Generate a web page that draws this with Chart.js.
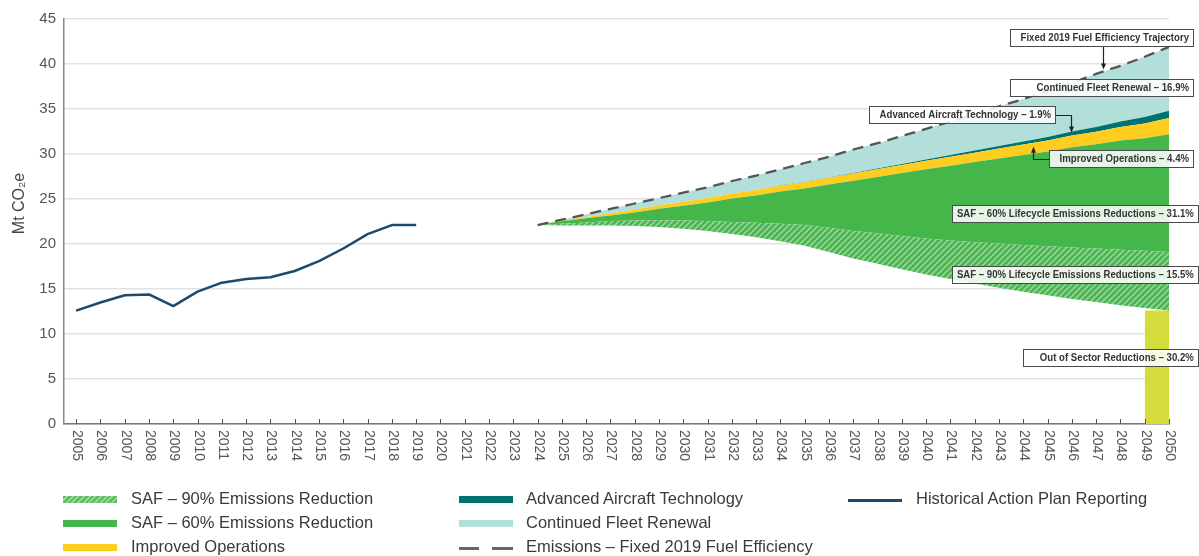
<!DOCTYPE html>
<html><head><meta charset="utf-8">
<script src="https://cdn.jsdelivr.net/npm/chart.js@4.4.1/dist/chart.umd.min.js"></script>
<style>
html,body{margin:0;padding:0;background:#fff;}
#wrap{position:relative;width:1199px;height:556px;overflow:hidden;background:#fff;}
#c{position:absolute;left:0;top:0;}
.lt{position:absolute;font-family:"Liberation Sans",Arial,sans-serif;font-size:16.5px;color:#3a3a3a;white-space:nowrap;line-height:20px;}
.sw{position:absolute;height:7px;width:54px;}
</style></head><body>
<div id="wrap"><canvas id="c" width="1199" height="556"></canvas><div id="legend"></div></div>
<script>
// ---------- data ----------
const histYears = [2005,2006,2007,2008,2009,2010,2011,2012,2013,2014,2015,2016,2017,2018,2019];
const historical = [12.6,13.5,14.3,14.4,13.1,14.7,15.7,16.1,16.3,17.0,18.1,19.5,21.1,22.1,22.1];

const projYears = [2024,2025,2026,2027,2028,2029,2030,2031,2032,2033,2034,2035,2036,2037,2038,2039,2040,2041,2042,2043,2044,2045,2046,2047,2048,2049,2050];
const residual     = [22.1,22.05,22.05,22.05,22.0,21.9,21.7,21.45,21.1,20.75,20.3,19.8,19.1,18.4,17.8,17.2,16.6,16.1,15.6,15.15,14.7,14.3,13.9,13.55,13.2,12.9,12.6];
const saf90        = [0,0.2,0.35,0.5,0.6,0.75,0.9,1.1,1.35,1.6,1.95,2.3,2.7,3.05,3.4,3.7,4.0,4.3,4.6,4.9,5.2,5.45,5.7,5.95,6.15,6.35,6.5];
const saf60        = [0,0.27,0.45,0.63,0.9,1.28,1.65,2.05,2.6,3.05,3.58,4.07,4.8,5.58,6.25,6.98,7.7,8.3,8.9,9.45,10.0,10.53,11.15,11.58,12.15,12.5,13.1];
const improvedOps  = [0,0.08,0.15,0.22,0.3,0.37,0.45,0.5,0.55,0.6,0.65,0.7,0.75,0.8,0.85,0.9,0.95,1.0,1.05,1.1,1.15,1.22,1.3,1.4,1.5,1.65,1.8];
const advancedTech = [0,0,0,0,0,0,0,0,0,0,0.02,0.03,0.05,0.07,0.1,0.12,0.15,0.2,0.25,0.3,0.35,0.4,0.45,0.52,0.6,0.7,0.8];
const fleetRenewal = [0,0.1,0.3,0.5,0.7,0.8,1.0,1.2,1.4,1.6,1.8,2.1,2.3,2.6,2.8,3.1,3.4,3.7,4.0,4.4,4.7,5.1,5.4,5.9,6.2,6.7,7.1];
const fixed2019    = [22.1,22.7,23.3,23.9,24.5,25.1,25.7,26.3,27.0,27.6,28.3,29.0,29.7,30.5,31.2,32.0,32.8,33.6,34.4,35.3,36.1,37.0,37.9,38.9,39.8,40.8,41.9];

const outOfSectorYears = [2049,2050];
const outOfSector = [12.6,12.6];

const xTickLabels = [2005,2006,2007,2008,2009,2010,2011,2012,2013,2014,2015,2016,2017,2018,2019,2020,2021,2022,2023,2024,2025,2026,2027,2028,2029,2030,2031,2032,2033,2034,2035,2036,2037,2038,2039,2040,2041,2042,2043,2044,2045,2046,2047,2048,2049,2050];
const yTitle = 'Mt CO\u2082e';

const legendLabels = ['SAF – 90% Emissions Reduction','SAF – 60% Emissions Reduction','Improved Operations','Advanced Aircraft Technology','Continued Fleet Renewal','Emissions – Fixed 2019 Fuel Efficiency','Historical Action Plan Reporting'];

// annotation boxes (data coordinates)
const annotations = [
  {text:'Fixed 2019 Fuel Efficiency Trajectory', x0:2043.45, x1:2050.99, y:42.94, arrow:{type:'down', x:2047.28, y:39.4}},
  {text:'Continued Fleet Renewal – 16.9%', x0:2043.45, x1:2050.99, y:37.37},
  {text:'Advanced Aircraft Technology – 1.9%', x0:2037.65, x1:2045.31, y:34.36, arrow:{type:'rightdown', x:2045.96, y:32.4}},
  {text:'Improved Operations – 4.4%', x0:2045.06, x1:2050.99, y:29.46, arrow:{type:'leftup', x:2044.40, y:30.8}},
  {text:'SAF – 60% Lifecycle Emissions Reductions – 31.1%', x0:2041.06, x1:2051.19, y:23.39},
  {text:'SAF – 90% Lifecycle Emissions Reductions – 15.5%', x0:2041.06, x1:2051.19, y:16.6},
  {text:'Out of Sector Reductions – 30.2%', x0:2043.99, x1:2051.19, y:7.41}
];

// ---------- helpers ----------
const pts = (xs, ys) => xs.map((x,i)=>({x:x, y:ys[i]}));
const FONT = '"Liberation Sans", Arial, sans-serif';

const C = {
  saf60:'#44b64a', ops:'#ffcd1f', aat:'#00726f', fleet:'#b3dfda',
  hist:'#1d4a6c', dash:'#555555', oos:'#d3dc3b'
};

const hatch = (() => {
  const c = document.createElement('canvas'); c.width = 6; c.height = 6;
  const g = c.getContext('2d');
  g.fillStyle = '#48b64e'; g.fillRect(0,0,6,6);
  g.strokeStyle = 'rgba(255,255,255,0.42)'; g.lineWidth = 1.6;
  g.beginPath();
  g.moveTo(-1,7); g.lineTo(7,-1);
  g.moveTo(-4,4); g.lineTo(4,-4);
  g.moveTo(2,10); g.lineTo(10,2);
  g.stroke();
  return g.createPattern(c,'repeat');
})();

function band(label, ys, color, fill) {
  return {label, data: pts(projYears, ys), stack:'proj', backgroundColor: color, borderColor: 'rgba(0,0,0,0)', borderWidth: 0, fill: fill, pointRadius:0};
}

const datasets = [
  band('Residual', residual, 'rgba(0,0,0,0)', false),
  band('SAF – 90% Emissions Reduction', saf90, hatch, '-1'),
  band('SAF – 60% Emissions Reduction', saf60, C.saf60, '-1'),
  band('Improved Operations', improvedOps, C.ops, '-1'),
  band('Advanced Aircraft Technology', advancedTech, C.aat, '-1'),
  band('Continued Fleet Renewal', fleetRenewal, C.fleet, '-1'),
  {label:'Emissions – Fixed 2019 Fuel Efficiency', data: pts(projYears, fixed2019), stack:'dash', borderColor:C.dash, borderWidth:2.3, borderDash:[11,7], fill:false, pointRadius:0, order:-1},
  {label:'Historical Action Plan Reporting', data: pts(histYears, historical), stack:'hist', borderColor:C.hist, borderWidth:2.5, fill:false, pointRadius:0, order:-1, borderJoinStyle:'round'},
  {label:'Out of Sector Reductions', data: pts(outOfSectorYears, outOfSector), stack:'oos', borderColor:C.oos, borderWidth:0, backgroundColor:C.oos, fill:'origin', pointRadius:0}
];

const overlay = {
  id:'overlay',
  afterDraw(chart) {
    const ctx = chart.ctx, xs = chart.scales.x, ys = chart.scales.y, area = chart.chartArea;
    ctx.save();
    // x ticks and rotated labels
    ctx.strokeStyle = '#555'; ctx.lineWidth = 1;
    ctx.fillStyle = '#555'; ctx.font = '14px ' + FONT;
    ctx.textAlign = 'left'; ctx.textBaseline = 'middle';
    xTickLabels.forEach(yr => {
      const px = Math.round(xs.getPixelForValue(yr)) + 0.5;
      ctx.beginPath(); ctx.moveTo(px, area.bottom); ctx.lineTo(px, area.bottom - 5); ctx.stroke();
      ctx.save();
      ctx.translate(px, area.bottom + 6);
      ctx.rotate(Math.PI/2);
      ctx.fillText(String(yr), 0, 0);
      ctx.restore();
    });
    // y title
    ctx.save();
    ctx.translate(20, (area.top + area.bottom)/2 - 18);
    ctx.rotate(-Math.PI/2);
    ctx.textAlign = 'center'; ctx.textBaseline = 'middle';
    ctx.font = '16px ' + FONT; ctx.fillStyle = '#444';
    ctx.fillText(yTitle, 0, 0);
    ctx.restore();
    // annotations
    const sx = 0.875;
    annotations.forEach(a => {
      const l = xs.getPixelForValue(a.x0), r = xs.getPixelForValue(a.x1), cy = ys.getPixelForValue(a.y);
      const h = 17, t = Math.round(cy - h/2) + 0.5;
      // connectors
      if (a.arrow) {
        const ax = Math.round(xs.getPixelForValue(a.arrow.x)) + 0.5, ay = ys.getPixelForValue(a.arrow.y);
        ctx.strokeStyle = '#222'; ctx.fillStyle = '#222'; ctx.lineWidth = 1.2;
        ctx.beginPath();
        if (a.arrow.type === 'down') { ctx.moveTo(ax, t + h); ctx.lineTo(ax, ay - 5); }
        if (a.arrow.type === 'rightdown') { ctx.moveTo(r, Math.round(cy)+0.5); ctx.lineTo(ax, Math.round(cy)+0.5); ctx.lineTo(ax, ay - 5); }
        if (a.arrow.type === 'leftup') { ctx.moveTo(l, Math.round(cy)+0.5); ctx.lineTo(ax, Math.round(cy)+0.5); ctx.lineTo(ax, ay + 5); }
        ctx.stroke();
        ctx.beginPath();
        if (a.arrow.type === 'leftup') { ctx.moveTo(ax, ay); ctx.lineTo(ax-2.5, ay+6); ctx.lineTo(ax+2.5, ay+6); }
        else { ctx.moveTo(ax, ay); ctx.lineTo(ax-2.5, ay-6); ctx.lineTo(ax+2.5, ay-6); }
        ctx.closePath(); ctx.fill();
      }
      ctx.fillStyle = 'rgba(255,255,255,0.86)';
      ctx.fillRect(Math.round(l)+0.5, t, r - l, h);
      ctx.strokeStyle = '#4a4a4a'; ctx.lineWidth = 1;
      ctx.strokeRect(Math.round(l)+0.5, t, Math.round(r - l), h);
      ctx.save();
      ctx.font = 'bold 11px ' + FONT;
      ctx.fillStyle = '#333';
      ctx.textAlign = 'right'; ctx.textBaseline = 'middle';
      ctx.translate(r - 4, cy + 0.5);
      ctx.scale(sx, 1);
      ctx.fillText(a.text, 0, 0);
      ctx.restore();
    });
    ctx.restore();
  }
};

new Chart(document.getElementById('c'), {
  type:'line',
  data:{datasets},
  options:{
    responsive:false, animation:false, devicePixelRatio:1,
    layout:{padding:{left:0, right:30, top:19, bottom:92}},
    plugins:{legend:{display:false}, tooltip:{enabled:false}},
    elements:{line:{tension:0}, point:{radius:0}},
    scales:{
      x:{type:'linear', min:2004.5, max:2050,
         ticks:{display:false}, grid:{display:false},
         border:{display:true, color:'#777', width:1.5},
         afterFit(s){ s.height = 40; }},
      y:{min:0, max:45, stacked:true,
         ticks:{stepSize:5, color:'#555', padding:8, font:{size:15, family:FONT}},
         grid:{color:'#e2e2e2', lineWidth:1.5, drawTicks:false},
         border:{display:true, color:'#888', width:1.5},
         afterFit(s){ s.width = 64; }}
    }
  },
  plugins:[overlay]
});

// ---------- legend (HTML) ----------
const legendPos = [
  {kind:'hatch', sx:63, tx:131, cy:499},
  {kind:'solid', color:C.saf60, sx:63, tx:131, cy:523},
  {kind:'solid', color:C.ops, sx:63, tx:131, cy:547},
  {kind:'solid', color:C.aat, sx:459, tx:526, cy:499},
  {kind:'solid', color:C.fleet, sx:459, tx:526, cy:523},
  {kind:'dash', sx:459, tx:526, cy:547},
  {kind:'line', color:C.hist, sx:848, tx:916, cy:499}
];
const lg = document.getElementById('legend');
legendPos.forEach((p,i) => {
  const sw = document.createElement('div');
  sw.className = 'sw';
  sw.style.left = p.sx + 'px';
  if (p.kind === 'hatch') {
    sw.style.top = (p.cy - 3) + 'px';
    sw.style.background = 'repeating-linear-gradient(135deg,#5fbf63 0 2.5px,#a3d9a5 2.5px 4px)';
  } else if (p.kind === 'solid') {
    sw.style.top = (p.cy - 3) + 'px';
    sw.style.background = p.color;
  } else if (p.kind === 'dash') {
    sw.style.top = (p.cy) + 'px'; sw.style.height = '2.5px';
    sw.style.background = 'linear-gradient(90deg,#666 0 20px,transparent 20px 33px,#666 33px 54px)';
  } else {
    sw.style.top = (p.cy) + 'px'; sw.style.height = '3px';
    sw.style.background = p.color;
  }
  lg.appendChild(sw);
  const t = document.createElement('div');
  t.className = 'lt';
  t.style.left = p.tx + 'px';
  t.style.top = (p.cy - 11) + 'px';
  t.textContent = legendLabels[i];
  lg.appendChild(t);
});
</script>
</body></html>
